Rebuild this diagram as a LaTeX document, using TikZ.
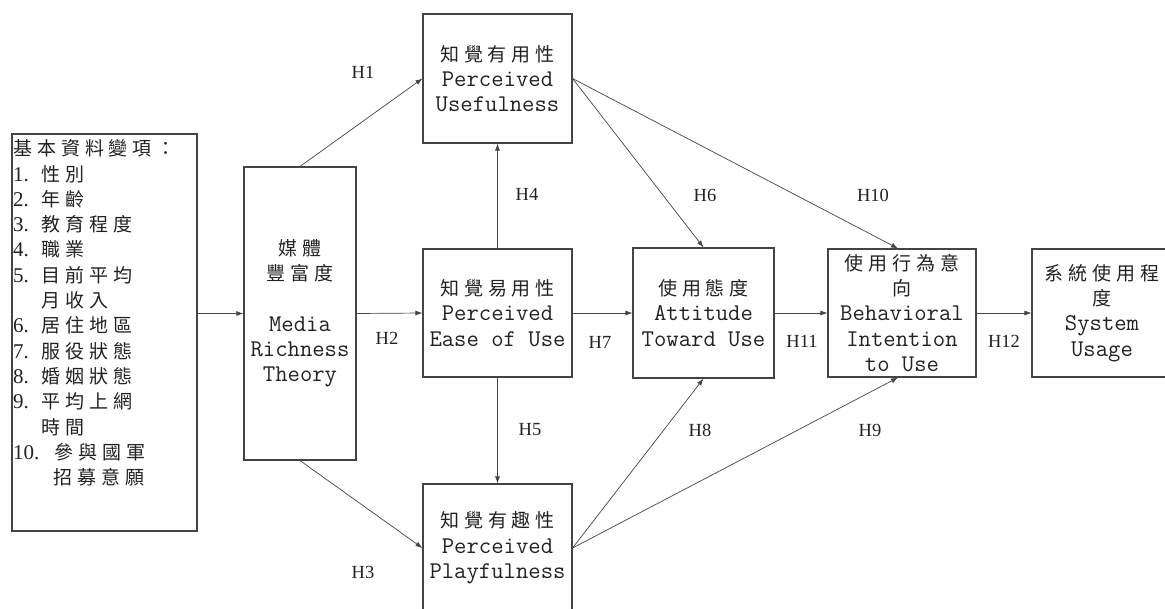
\documentclass[tikz,border=0pt]{standalone}
\usepackage{fontspec}
\setmainfont{Liberation Serif}
\newfontfamily\cjk[LetterSpace=26]{Noto Sans CJK TC}
\usetikzlibrary{arrows.meta}
\definecolor{edge}{HTML}{444444}
\definecolor{ink}{HTML}{222222}
\newcommand{\zh}[1]{{\cjk\fontsize{19}{25.3}\selectfont #1}}
\newcommand{\nm}[1]{\makebox[28pt][l]{#1}}
\begin{document}
\begin{tikzpicture}[x=1pt,y=-1pt,
  box/.style={draw=edge, line width=1.1pt, align=center, inner sep=0pt, text=ink,
    font=\ttfamily\fontsize{24}{25.3}\selectfont},
  arr/.style={draw=edge, line width=0.7pt, -{Latex[length=7pt,width=5pt]}},
  hlab/.style={font=\fontsize{18.5}{20}\selectfont, text=ink, inner sep=0pt}]
\useasboundingbox (0,0) rectangle (1165,608);

% boxes
\node[box, minimum width=185pt, minimum height=397pt] (demo) at (104.5,332.5) {};
\node[anchor=west, align=left, inner sep=0pt, text=ink, font=\fontsize{21}{25.3}\selectfont] (demotxt) at (13,313) {%
\zh{基本資料變項：}\\
\nm{1.}\zh{性別}\\
\nm{2.}\zh{年齡}\\
\nm{3.}\zh{教育程度}\\
\nm{4.}\zh{職業}\\
\nm{5.}\zh{目前平均}\\
\hspace*{28pt}\zh{月收入}\\
\nm{6.}\zh{居住地區}\\
\nm{7.}\zh{服役狀態}\\
\nm{8.}\zh{婚姻狀態}\\
\nm{9.}\zh{平均上網}\\
\hspace*{28pt}\zh{時間}\\
\makebox[41pt][l]{10.}\zh{參與國軍}\\
\hspace*{40pt}\zh{招募意願}};

\node[box, minimum width=112pt, minimum height=293pt] (media) at (300,313.5)
  {\zh{媒體}\\\zh{豐富度}\\[25.3pt]Media\\Richness\\Theory};
\node[box, minimum width=149pt, minimum height=129pt] (pu) at (497.5,78.5)
  {\zh{知覺有用性}\\Perceived\\Usefulness};
\node[box, minimum width=149pt, minimum height=128pt] (peou) at (497.5,313)
  {\zh{知覺易用性}\\Perceived\\Ease of Use};
\node[box, minimum width=149pt, minimum height=128pt] (pp) at (497.5,548)
  {\zh{知覺有趣性}\\Perceived\\Playfulness};
\node[box, minimum width=141pt, minimum height=130pt] (atu) at (703.5,313)
  {\zh{使用態度}\\Attitude\\Toward Use};
\node[box, minimum width=148pt, minimum height=128pt] (bi) at (902,313)
  {\zh{使用行為意}\\\zh{向}\\Behavioral\\Intention\\to Use};
\node[box, minimum width=140pt, minimum height=128pt] (su) at (1102,313)
  {\zh{系統使用程}\\\zh{度}\\System\\Usage};

% connectors
\draw[arr] (media.west -| demo.east) -- (media.west);
\draw[arr] (media.north) -- (pu.west);
\draw[arr] (media.east) -- (peou.west);
\draw[arr] (media.south) -- (pp.west);
\draw[arr] (peou.north) -- (pu.south);
\draw[arr] (peou.south) -- (pp.north);
\draw[arr] (peou.east) -- (atu.west);
\draw[arr] (pu.east) -- (atu.north);
\draw[arr] (pu.east) -- ([xshift=-4pt]bi.north);
\draw[arr] (pp.east) -- (atu.south);
\draw[arr] (pp.east) -- ([xshift=-4pt]bi.south);
\draw[arr] (atu.east) -- (bi.west);
\draw[arr] (bi.east) -- (su.west);

% labels
\node[hlab] (h1) at (363,72) {H1};
\node[hlab] (h2) at (387,338) {H2};
\node[hlab] (h3) at (363,572) {H3};
\node[hlab] (h4) at (527,194) {H4};
\node[hlab] (h5) at (530,430) {H5};
\node[hlab] (h6) at (705,195) {H6};
\node[hlab] (h7) at (600,342) {H7};
\node[hlab] (h8) at (700,430) {H8};
\node[hlab] (h9) at (870,430) {H9};
\node[hlab] (h10) at (873,195) {H10};
\node[hlab] (h11) at (802,341) {H11};
\node[hlab] (h12) at (1004,341) {H12};
\end{tikzpicture}
\end{document}
